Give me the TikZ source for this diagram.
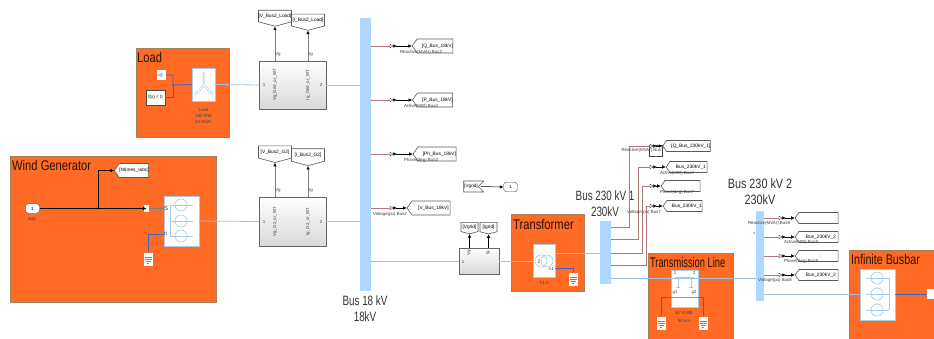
\documentclass[tikz,border=0pt]{standalone}
\usepackage{fontspec}
\setmainfont{Liberation Sans}
\usetikzlibrary{arrows.meta,shapes.geometric,shapes.symbols}
\definecolor{subsysorange}{HTML}{FF6A25}
\definecolor{busblue}{HTML}{AED8FF}
\definecolor{wireblue}{HTML}{9CC3DF}
\definecolor{gndblue}{HTML}{3F63C4}
\definecolor{wirered}{HTML}{B07878}
\definecolor{symblue}{HTML}{A9CBE3}
\tikzset{
	subsys/.style = {draw = gray!70!orange, fill = subsysorange, line width = 0.7pt, inner sep = 0, minimum width = #1},
	title/.style = {anchor = west, inner sep = 0, text = black!85!orange, font = \fontsize{14}{14}\selectfont, xscale = 0.8},
	whiteblock/.style = {draw = symblue, fill = white, line width = 0.7pt, inner sep = 0},
	busbar/.style = {fill = busblue, inner sep = 0, minimum width = #1},
	meas/.style = {draw = gray!80!black, top color = white, bottom color = gray!30, inner sep = 0, minimum width = 67, line width = 0.8pt},
	gototag/.style = {shape = signal, signal to = west, signal pointer angle = 110, draw = gray!70!black, fill = white, line width = 0.6pt, inner sep = 0, minimum height = 14, minimum width = #1, font = \fontsize{4.8}{5}\selectfont},
	downtag/.style = {shape = signal, signal to = south, signal pointer angle = 150, draw = gray!70!black, fill = white, line width = 0.6pt, inner sep = 0, minimum height = 16, minimum width = 33, font = \fontsize{4.8}{5}\selectfont},
	pill/.style = {draw = black!70, fill = white, rounded corners = 3pt, inner sep = 0, minimum width = 14, minimum height = 9.5, font = \fontsize{4.6}{5}\selectfont},
	tinytext/.style = {inner sep = 0, text = black!75, font = \fontsize{4.4}{4.8}\selectfont},
	bigtext/.style = {inner sep = 0, align = center, text = black!80, font = \fontsize{13.5}{15.5}\selectfont, xscale = 0.73},
	wire/.style = {draw = wireblue, line width = 0.8pt},
	gndwire/.style = {draw = gndblue, line width = 0.9pt},
	redwire/.style = {draw = wirered, line width = 0.8pt},
	sigwire/.style = {draw = black, line width = 0.5pt, -{Latex[length = 3.5pt, width = 3.5pt]}},
	measwire/.style = {draw = black, line width = 0.5pt, {Latex[reversed, length = 3.5pt, width = 3.5pt]}-{Latex[length = 3.5pt, width = 3.5pt]}},
	grayarrow/.style = {draw = gray, line width = 0.9pt, -{Latex[black, length = 3.5pt, width = 3.5pt]}},
	dot/.style = {circle, fill = #1, inner sep = 0, minimum size = 2.2},
	inmark/.style = {fill = white, inner sep = 0, minimum width = 5, minimum height = 7},
	intri/.style = {isosceles triangle, isosceles triangle apex angle = 60, draw = black!80, fill = white, line width = 0.35pt, inner sep = 0, minimum size = 3},
	gnd/.pic = {
		\node [fill = white, inner sep = 0, minimum width = 9, minimum height = 13] (-box) {};
		\draw [gndblue!80, line width = 0.5pt] (-3.5,-2) -- (3.5,-2) (-3.5,0) -- (3.5,0) (-2.5,2) -- (2.5,2) (-1,4) -- (1,4);
	}
}
\begin{document}
\begin{tikzpicture} [x = 1pt, y = -1pt]
	\useasboundingbox [fill = white] (0,0) rectangle (934,338);

	% subsystems
	\node [subsys = 93, minimum height = 89] (load) at (182.5,92.5) {};
	\node [title] at (137,57) {Load};
	\node [subsys = 206, minimum height = 146] (wind) at (113,229) {};
	\node [title] at (12,165) {Wind Generator};
	\node [subsys = 73, minimum height = 77] (trafo) at (547.5,252.5) {};
	\node [title] at (513,224) {Transformer};
	\node [subsys = 85, minimum height = 90] (tline) at (690.5,298) {};
	\node [title, xscale = 0.83] at (650,262) {Transmission Line};
	\node [subsys = 90, minimum height = 92] (infbus) at (894,296) {};
	\node [title, xscale = 0.96] at (851,259) {Infinite Busbar};

	% buses
	\node [busbar = 11, minimum height = 273] (bus18) at (365.5,154.5) {};
	\node [busbar = 11, minimum height = 63] (bus1) at (605.5,252.5) {};
	\node [busbar = 8, minimum height = 90] (bus2) at (760,256) {};
	\node [bigtext] at (365,308.5) {Bus 18 kV\\18kV};
	\node [bigtext] at (605,203.5) {Bus 230 kV 1\\230kV};
	\node [bigtext, xscale = 1.1] at (760,191.5) {Bus 230 kV 2\\230kV};
	\node [dot = black!70, minimum size = 1.5] (busmark) at (754,233) {};

	% load
	\node [whiteblock, minimum width = 23, minimum height = 33] (loadblk) at (203.5,84.5) {};
	\draw [draw = symblue, double = white, double distance = 1pt, line width = 0.6pt] (204,72) -- (204,85) (204,85) -- (195,95) (204,85) -- (213,95);
	\node [tinytext, align = center] at (203.5,116) {Load\\[1.2pt]100 MW\\[1.2pt]25 MVAr};
	\node [draw = black!70, fill = white, inner sep = 0, minimum width = 19, minimum height = 15, font = \fontsize{4.6}{5}\selectfont] (fx) at (155.5,97.5) {f(x) = 0};
	\node [fill = white, inner sep = 0, minimum width = 9, minimum height = 10] (loadgnd) at (161,75) {};
	\node [dot = gndblue] (loadjn) at (173,85) {};
	\draw [gndwire] (loadgnd.east) -| (loadjn.center) -- (loadblk.west);
	\draw [gndwire] (fx.east) -| (loadjn.center);
	\node [fill = symblue, isosceles triangle, shape border rotate = 180, inner sep = 0, minimum size = 5] at (161,75) {};

	% measurement blocks
	\node [meas, minimum height = 48] (meas1) at (292.5,85) {};
	\node [meas, minimum height = 49] (meas2) at (292.5,221.5) {};
	\node [meas, minimum width = 40, minimum height = 26] (meas3) at (479,261) {};
	\node [downtag] (tagv1) at (275,16) {[V\_Bus2\_Load]};
	\node [downtag] (tagi1) at (308,20) {[I\_Bus2\_Load]};
	\node [downtag] (tagv2) at (275,152) {[V\_Bus2\_G2]};
	\node [downtag] (tagi2) at (308,155) {[I\_Bus2\_G2]};
	\foreach \tagname/\blk/\xpos in {tagv1/meas1/275, tagi1/meas1/308, tagv2/meas2/275, tagi2/meas2/308} {
		\draw [grayarrow] (\xpos,0 |- \blk.north) -- (\xpos,0 |- \tagname.south);
	}
	\foreach \blk/\sg in {meas1/Grid, meas2/G2} {
		\node [tinytext, rotate = 90] at (\blk.center -| 275,0) {Vg\_\sg\_or\_WT};
		\node [tinytext, rotate = 90] at (\blk.center -| 308,0) {Ig\_\sg\_or\_WT};
		\node [tinytext] at (264,0 |- \blk.center) {1};
		\node [tinytext] at (321,0 |- \blk.center) {2};
		\node [tinytext] at (278,0 |- \blk.north) [yshift = 6pt] {Vg};
		\node [tinytext] at (311,0 |- \blk.north) [yshift = 6pt] {Ig};
	}
	\node [tinytext] at (463,262) {1};
	\node [tinytext, rotate = 90] at (469,253) {Vg};
	\node [tinytext, rotate = 90] at (488,253) {Ig};
	\node [downtag, minimum width = 17, minimum height = 11] (tagv3) at (469.5,227) {[Vgrid]};
	\node [downtag, minimum width = 17, minimum height = 11] (tagi3) at (488.5,227) {[Igrid]};
	\draw [sigwire] (469.5,0 |- meas3.north) -- (tagv3.south);
	\draw [sigwire] (488.5,0 |- meas3.north) -- (tagi3.south);

	% wind generator
	\node [pill] (labc) at (32.5,208.5) {1};
	\node [tinytext] at (32,219) {Iabc};
	\node [inmark] (conv) at (146.5,208.5) {};
	\node [gototag = 33, signal to = west, minimum height = 14] (ntimes) at (134,170.5) {[Ntimes\_Iabc]};
	\node [dot = black] (wjn) at (98,208.5) {};
	\draw [sigwire] (labc.east) -- (conv.center);
	\draw [sigwire] (wjn.center) |- (ntimes.west);
	\node [whiteblock, minimum width = 35, minimum height = 50] (genblk) at (181.5,221) {};
	\draw [symblue, line width = 0.6pt] (170,205) -- (170,236) (170,205) -- (193,205) (170,221) -- (193,221) (170,236) -- (193,236);
	\foreach \ypos in {205,221,236} {
		\draw [symblue, line width = 0.6pt] (181,\ypos) circle (6);
	}
	\draw [gray, line width = 0.7pt] (conv.east) -- (genblk.west |- conv);
	\node [tinytext, font = \fontsize{6}{6}\selectfont] at (166,208.5) {S};
	\node [tinytext, font = \fontsize{6}{6}\selectfont] at (165.5,234) {n};
	\pic (gndgen) at (148,259) {gnd};
	\draw [gndwire] (genblk.west |- 0,234) -| (gndgen-box.north);

	% main wires
	\draw [wire] (loadblk.east) -- (meas1.west);
	\draw [wire] (meas1.east) -- (bus18.west |- meas1.east);
	\draw [wire] (genblk.east) -- (meas2.west);
	\draw [wire] (meas2.east) -- (bus18.west |- meas2.east);
	\draw [wire] (bus18.east |- meas3.west) -- (meas3.west);

	% grid port
	\node [shape = signal, signal from = east, signal to = nowhere, draw = gray!70!black, fill = white, line width = 0.6pt, inner sep = 0, minimum width = 20, minimum height = 11, font = \fontsize{4.6}{5}\selectfont] (vgrid) at (471,186.5) {[Vgrid]};
	\node [pill] (outvg) at (510.5,187) {1};
	\draw [sigwire] (481,186.5) -- (outvg.west);

	% measurements on bus 18
	\foreach \ypos/\tagx/\tagw/\tagtext/\labx/\labtext in {
		46/435/36/{[Q\_Bus\_18kV]}/421/{Reactive(MVAr) Bus2},
		100/435/40/{[P\_Bus\_18kV]}/421/{Active(MW) Bus2},
		154/437/43/{[Ph\_Bus\_18kV]}/421/{Phase(deg) Bus2},
		208/431/43/{[V\_Bus\_18kV]}/390/{Voltage(pu) Bus2}} {
		\node [intri] (in\ypos) at (391,\ypos) {};
		\node [gototag = \tagw] (tag\ypos) at (\tagx,\ypos) {\quad\tagtext};
		\draw [redwire] (bus18.east |- in\ypos) -- (in\ypos.west);
		\draw [measwire] (in\ypos.east) -- (tag\ypos.west);
		\node [tinytext] at (\labx,\ypos+6.5) {\labtext};
	}

	% transformer
	\node [whiteblock, minimum width = 22, minimum height = 33] (trafoblk) at (544,260.5) {};
	\draw [symblue, line width = 0.6pt] (541,261) circle (6) (547,261) circle (6);
	\node [tinytext] at (544,283) {T1-2};
	\node [tinytext, font = \fontsize{5}{5}\selectfont] at (539,262) {2};
	\node [tinytext] at (551,269) {n1};
	\draw [wire] (meas3.east) -- (trafoblk.west |- meas3.east);
	\draw [wire] (trafoblk.east |- 0,253) -- (bus1.west |- 0,253);
	\pic (gndtr) at (573,279) {gnd};
	\draw [gndwire] (trafoblk.east |- 0,268) -| (gndtr-box.north);

	% measurements on bus 1
	\node [draw = black!70, inner sep = 0, minimum width = 13, minimum height = 11] (smallbox) at (656,150.5) {};
	\foreach \ybus/\xup/\ypos/\tagx/\tagw/\tagtext/\labx/\laby/\labtext in {
		227/629/146/688.5/41/{[Q\_Bus\_230kV\_1]}/642.5/150/{Reactive(MVAr) Bus7},
		239/638/167/688.5/41/{Bus\_230kV\_1}/677/173/{Active(MW) Bus7},
		253/642/186/682.5/39/{}/677/192/{Phase(deg) Bus7},
		265/646/206/684.5/39/{Bus\_230kV\_1}/644/212/{Voltage(pu) Bus7}} {
		\node [intri] (in\ypos) at (651,\ypos) {};
		\node [gototag = \tagw, minimum height = 11] (tag\ypos) at (\tagx,\ypos) {\quad\tagtext};
		\draw [redwire] (bus1.east |- 0,\ybus) -| (\xup,\ypos) -- (in\ypos.west);
		\draw [measwire] (in\ypos.east) -- (tag\ypos.west);
		\node [tinytext] at (\labx,\laby) {\labtext};
	}

	% transmission line
	\node [whiteblock, minimum width = 27, minimum height = 37] (lineblk) at (684.5,288.5) {};
	\draw [symblue, line width = 0.5pt] (675,277) -- (694,277) (678,277) -- (678,287) (691,277) -- (691,287) (676,287) -- (680,287) (689,287) -- (693,287);
	\node [tinytext] at (675,273) {1};
	\node [tinytext] at (694,273) {2};
	\node [tinytext] at (675,292) {g1};
	\node [tinytext] at (694,292) {g2};
	\node [tinytext, align = center] at (684,317) {B7 to B8\\[2.4pt]50 km};
	\pic (gndl) at (661,323) {gnd};
	\pic (gndr) at (703,323) {gnd};
	\draw [gndwire] (gndl-box.north) |- (lineblk.south west |- 0,297) -- (lineblk.south east |- 0,297) -| (gndr-box.north);
	\draw [wire] (bus1.east |- 0,278) -- (bus2.west |- 0,278);

	% measurements on bus 2
	\foreach \ypos/\tagtext/\labx/\labtext in {
		218/{}/769/{Reactive(MVAr) Bus8},
		237/{Bus\_230kV\_2}/801/{Active(MW) Bus8},
		256/{:}/801/{Phase(deg) Bus8},
		275/{Bus\_230kV\_2}/775/{Voltage(pu) Bus8}} {
		\node [intri] (in\ypos) at (780,\ypos) {};
		\node [gototag = 43, minimum height = 11] (tag\ypos) at (818.5,\ypos) {\quad\tagtext};
		\draw [redwire] (bus2.east |- in\ypos) -- (in\ypos.west);
		\draw [measwire] (in\ypos.east) -- (tag\ypos.west);
		\node [tinytext] at (\labx,\ypos+5.5) {\labtext};
	}

	% infinite busbar
	\node [whiteblock, minimum width = 35, minimum height = 51] (infblk) at (877.5,294.5) {};
	\draw [symblue, line width = 0.6pt] (889,278) -- (889,310) (866,278) -- (889,278) (866,294) -- (889,294) (866,310) -- (889,310);
	\foreach \ypos in {278,294,310} {
		\draw [symblue, line width = 0.6pt] (877,\ypos) circle (6);
	}
	\node [fill = white, inner sep = 0, minimum width = 7, minimum height = 10] (infgnd) at (930.5,294) {};
	\draw [wire] (bus2.east |- 0,294) -- (infblk.west |- 0,294);
	\draw [gndwire] (infblk.east |- 0,294) -- (infgnd.west);
\end{tikzpicture}
\end{document}
